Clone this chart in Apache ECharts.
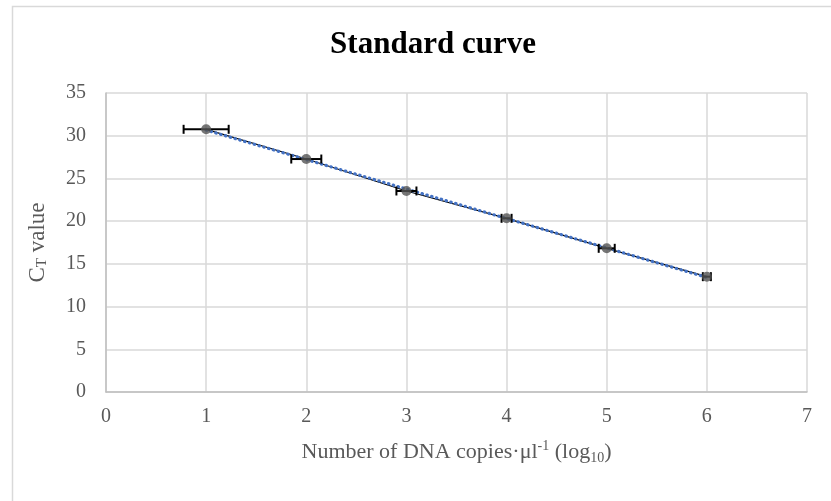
<!DOCTYPE html>
<html>
<head>
<meta charset="utf-8">
<script src="https://cdn.jsdelivr.net/npm/echarts@6/dist/echarts.min.js"></script>
<style>
html,body{margin:0;padding:0;background:#fff;}
#chart{width:831px;height:501px;}
</style>
</head>
<body>
<div id="chart"></div>
<script>
var logCopies = [1, 2, 3, 4, 5, 6];
var ctValues = [30.75, 27.27, 23.53, 20.33, 16.82, 13.5];
var xErrors = [0.225, 0.15, 0.1, 0.05, 0.08, 0.04];
var trendX = [1, 6];
var trendY = [30.66, 13.41];
var xTicks = [0, 1, 2, 3, 4, 5, 6, 7];
var yTicks = [0, 5, 10, 15, 20, 25, 30, 35];

var pts = logCopies.map(function (x, i) { return [x, ctValues[i]]; });
var errData = logCopies.map(function (x, i) { return [x, ctValues[i], xErrors[i]]; });
var trendData = trendX.map(function (x, i) { return [x, trendY[i]]; });

var chart = echarts.init(document.getElementById('chart'));
var serif = '"Liberation Serif", "DejaVu Serif", serif';
var grey = '#595959';
chart.setOption({
  backgroundColor: '#fff',
  animation: false,
  graphic: [{
    type: 'polyline',
    shape: { points: [[12.5, 501], [12.5, 6.5], [831, 6.5]] },
    style: { stroke: '#d9d9d9', lineWidth: 1.5, fill: null },
    silent: true
  }],
  title: {
    text: 'Standard curve',
    left: 428, top: 24, textAlign: 'center',
    textStyle: { fontFamily: serif, fontWeight: 'bold', fontSize: 31, color: '#000' }
  },
  grid: { left: 106, right: 24, top: 93, bottom: 109, containLabel: false },
  xAxis: {
    type: 'value', min: 0, max: 7, interval: 1,
    axisLine: { show: true, lineStyle: { color: '#bfbfbf', width: 1.5 } },
    axisTick: { show: false },
    splitLine: { show: true, lineStyle: { color: '#d9d9d9', width: 1.5 } },
    axisLabel: { fontFamily: serif, fontSize: 20, color: grey, margin: 15 },
    name: '{n|Number of DNA copies·μl}{sup|-1}{n| (log}{sub|10}{n|)}',
    nameLocation: 'middle', nameGap: 47,
    nameTextStyle: {
      fontFamily: serif, fontSize: 22, color: grey,
      rich: {
        n: { fontFamily: serif, fontSize: 22, color: grey },
        sup: { fontFamily: serif, fontSize: 14, color: grey, verticalAlign: 'top', lineHeight: 26, padding: [0, 0, 10, 0] },
        sub: { fontFamily: serif, fontSize: 14, color: grey, verticalAlign: 'bottom', lineHeight: 16, padding: [8, 0, 0, 0] }
      }
    }
  },
  yAxis: {
    type: 'value', min: 0, max: 35, interval: 5,
    axisLine: { show: true, lineStyle: { color: '#bfbfbf', width: 1.5 } },
    axisTick: { show: false },
    splitLine: { show: true, lineStyle: { color: '#d9d9d9', width: 1.5 } },
    axisLabel: { fontFamily: serif, fontSize: 20, color: grey, margin: 20 },
    name: '{n|C}{sub|T}{n| value}',
    nameLocation: 'middle', nameGap: 56,
    nameTextStyle: {
      fontFamily: serif, fontSize: 23, color: grey,
      rich: {
        n: { fontFamily: serif, fontSize: 23, color: grey },
        sub: { fontFamily: serif, fontSize: 15, color: grey, verticalAlign: 'bottom', padding: [9, 0, 0, 0] }
      }
    }
  },
  series: [
    {
      type: 'line', data: pts, symbol: 'none',
      lineStyle: { color: '#000', width: 1.2 }, z: 2
    },
    {
      type: 'line', data: trendData, symbol: 'none',
      lineStyle: { color: '#4472c4', width: 3.2, type: [0.5, 4.5], cap: 'round' }, z: 3
    },
    {
      type: 'custom', data: errData, z: 4,
      renderItem: function (params, api) {
        var x = api.value(0), y = api.value(1), e = api.value(2);
        var l = api.coord([x - e, y]);
        var r = api.coord([x + e, y]);
        var h = 4.5;
        var st = { stroke: '#000', lineWidth: 2 };
        return {
          type: 'group',
          children: [
            { type: 'line', shape: { x1: l[0], y1: l[1], x2: r[0], y2: r[1] }, style: st },
            { type: 'line', shape: { x1: l[0], y1: l[1] - h, x2: l[0], y2: l[1] + h }, style: st },
            { type: 'line', shape: { x1: r[0], y1: r[1] - h, x2: r[0], y2: r[1] + h }, style: st }
          ]
        };
      }
    },
    {
      type: 'scatter', data: pts, symbol: 'circle', symbolSize: 10,
      itemStyle: { color: '#545454' }, z: 5
    }
  ]
});
</script>
</body>
</html>
